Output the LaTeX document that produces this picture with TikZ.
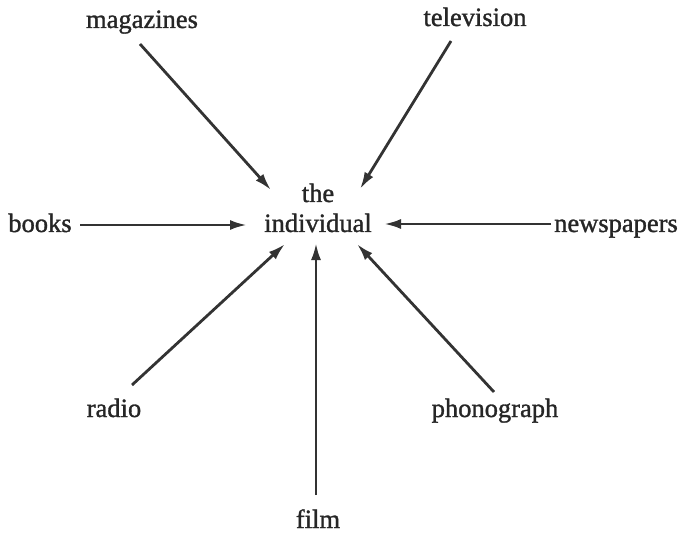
\documentclass[tikz,border=0pt]{standalone}
\usepackage{fontspec}
\setmainfont{Liberation Serif}
\newfontfamily\lblfont[FakeBold=1.2]{Liberation Serif}
\usetikzlibrary{arrows.meta}
\begin{document}
\begin{tikzpicture}[x=1pt,y=-1pt,
  lbl/.style={inner sep=0pt,font=\lblfont\fontsize{26.5}{30}\selectfont,text=black!85,anchor=base},
  arr/.style={line width=2.8pt,draw=black!80,-{Latex[length=17pt,width=10pt]}}]
\useasboundingbox (0,0) rectangle (684,534);
\node[lbl] (mag) at (142,28) {magazines};
\node[lbl] (tv) at (475,26) {television};
\node[lbl] (the) at (318,202) {the};
\node[lbl] (ind) at (318,232) {individual};
\node[lbl] (books) at (40,232) {books};
\node[lbl] (news) at (616,232) {newspapers};
\node[lbl] (radio) at (114,417) {radio};
\node[lbl] (phono) at (495,417) {phonograph};
\node[lbl] (film) at (318,528) {film};
\coordinate (magS) at (140,44);
\coordinate (magE) at (271,190);
\coordinate (tvS) at (451,41);
\coordinate (tvE) at (360,189);
\coordinate (booksS) at (80,225);
\coordinate (booksE) at (247,225);
\coordinate (newsS) at (551,224);
\coordinate (newsE) at (384,224);
\coordinate (radioS) at (132,385);
\coordinate (radioE) at (285,244);
\coordinate (phonoS) at (494,392);
\coordinate (phonoE) at (357,244);
\coordinate (filmS) at (316,495);
\coordinate (filmE) at (316,243);
\draw[arr] (magS) -- (magE);
\draw[arr] (tvS) -- (tvE);
\draw[arr] (booksS) -- (booksE);
\draw[arr] (newsS) -- (newsE);
\draw[arr] (radioS) -- (radioE);
\draw[arr] (phonoS) -- (phonoE);
\draw[arr] (filmS) -- (filmE);
\end{tikzpicture}
\end{document}
